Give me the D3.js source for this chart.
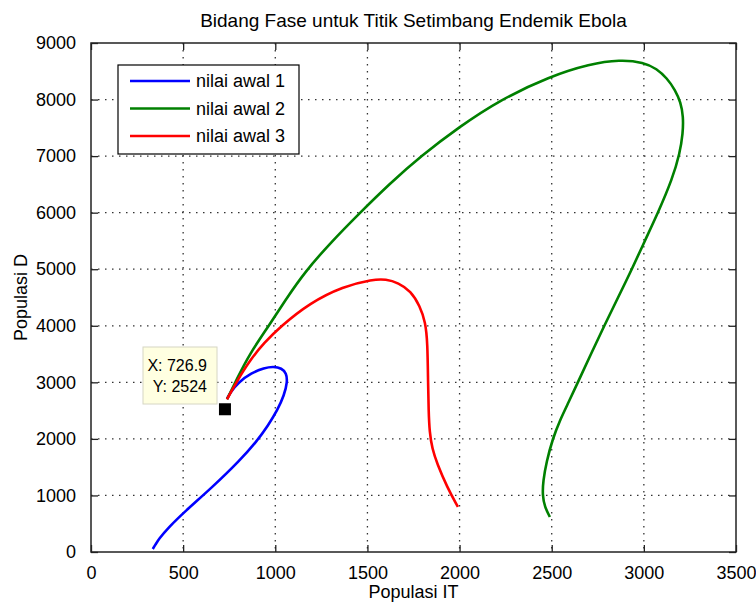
<!DOCTYPE html>
<html>
<head>
<meta charset="utf-8">
<script src="https://cdn.jsdelivr.net/npm/d3@7"></script>
<style>
  body { margin: 0; background: #fff; }
  svg text { font-family: Arial, "Liberation Sans", Helvetica, sans-serif; fill: #000; }
</style>
</head>
<body>
<svg id="canvas" width="756" height="603"></svg>
<script>
// tick values
let xTicks = [0, 500, 1000, 1500, 2000, 2500, 3000, 3500]
let yTicks = [0, 1000, 2000, 3000, 4000, 5000, 6000, 7000, 8000, 9000]

// trajectories: [IT, D]
let awal1 = [[335, 53], [350, 130], [368, 230], [420, 430], [500, 690], [660, 1150], [808, 1620],
  [900, 1960], [960, 2230], [1012, 2510], [1048, 2770], [1066, 3010], [1060, 3160], [1035, 3250],
  [990, 3280], [940, 3255], [870, 3165], [800, 3000], [755, 2820], [738, 2705]]

let awal2 = [[738, 2700], [790, 3050], [860, 3500], [965, 4000], [1060, 4480], [1160, 4950],
  [1300, 5470], [1460, 6000], [1620, 6510], [1790, 7000], [2000, 7520], [2217, 7990], [2490, 8410],
  [2707, 8630], [2870, 8705], [3000, 8660], [3070, 8545], [3125, 8380], [3170, 8170], [3200, 7950],
  [3214, 7700], [3212, 7400], [3195, 7050], [3155, 6600], [3077, 6000], [3005, 5500], [2935, 5000],
  [2860, 4500], [2785, 4000], [2713, 3500], [2642, 3000], [2592, 2650], [2545, 2334], [2505, 2000],
  [2472, 1600], [2453, 1250], [2450, 1000], [2462, 800], [2490, 619]]

let awal3 = [[738, 2700], [790, 3010], [863, 3395], [940, 3700], [1026, 3980], [1188, 4405],
  [1367, 4695], [1530, 4822], [1600, 4825], [1668, 4760], [1735, 4615], [1785, 4350], [1815, 4060],
  [1826, 3700], [1829, 3000], [1832, 2500], [1837, 2120], [1852, 1820], [1877, 1573], [1932, 1149],
  [1991, 796]]

let seriesNames = ['nilai awal 1', 'nilai awal 2', 'nilai awal 3']
let seriesColors = ['#0000ff', '#008000', '#ff0000']
let seriesData = [awal1, awal2, awal3]

let tipPoint = [726.9, 2524]

let svg = d3.select('#canvas')
let plotLeft = 91, plotRight = 736, plotTop = 43, plotBottom = 552

let xScale = d3.scaleLinear().domain([0, 3500]).range([plotLeft, plotRight])
let yScale = d3.scaleLinear().domain([0, 9000]).range([plotBottom, plotTop])

// grid
svg.append('g')
   .selectAll('line')
   .data(xTicks.slice(1, -1))
   .enter()
   .append('line')
   .attr('x1', d => xScale(d)).attr('x2', d => xScale(d))
   .attr('y1', plotTop).attr('y2', plotBottom)
   .attr('stroke', '#333').attr('stroke-width', 1.3)
   .attr('stroke-dasharray', '1.5,5.5')

svg.append('g')
   .selectAll('line')
   .data(yTicks.slice(1, -1))
   .enter()
   .append('line')
   .attr('y1', d => yScale(d)).attr('y2', d => yScale(d))
   .attr('x1', plotLeft).attr('x2', plotRight)
   .attr('stroke', '#333').attr('stroke-width', 1.3)
   .attr('stroke-dasharray', '1.5,5.5')

// axes with inward ticks on all sides
let styleAxis = (g) => {
    g.select('.domain').remove()
    g.selectAll('.tick line').attr('stroke', '#222').attr('stroke-width', 1.3)
    g.selectAll('.tick text').style('font-size', '18px')
}

svg.append('g')
   .attr('transform', `translate(0,${plotBottom})`)
   .call(d3.axisBottom(xScale).tickValues(xTicks).tickSizeInner(-7).tickPadding(14).tickFormat(d3.format('d')))
   .call(styleAxis)

svg.append('g')
   .attr('transform', `translate(0,${plotTop})`)
   .call(d3.axisTop(xScale).tickValues(xTicks).tickSizeInner(-7).tickFormat(''))
   .call(styleAxis)

svg.append('g')
   .attr('transform', `translate(${plotLeft},0)`)
   .call(d3.axisLeft(yScale).tickValues(yTicks).tickSizeInner(-7).tickPadding(15).tickFormat(d3.format('d')))
   .call(styleAxis)

svg.append('g')
   .attr('transform', `translate(${plotRight},0)`)
   .call(d3.axisRight(yScale).tickValues(yTicks).tickSizeInner(-7).tickFormat(''))
   .call(styleAxis)

svg.append('rect')
   .attr('x', plotLeft).attr('y', plotTop)
   .attr('width', plotRight - plotLeft).attr('height', plotBottom - plotTop)
   .attr('fill', 'none').attr('stroke', '#222').attr('stroke-width', 1.5)

// curves
let line = d3.line()
    .x(d => xScale(d[0]))
    .y(d => yScale(d[1]))
    .curve(d3.curveBasis)

svg.append('g')
   .selectAll('path')
   .data(seriesData)
   .enter()
   .append('path')
   .attr('d', line)
   .attr('fill', 'none')
   .attr('stroke', (d, i) => seriesColors[i])
   .attr('stroke-width', 2.6)
   .attr('stroke-linejoin', 'round')

// data tip
let tipBox = svg.append('g')
tipBox.append('rect')
      .attr('x', 143).attr('y', 347).attr('width', 74).attr('height', 57)
      .attr('fill', '#ffffe1').attr('stroke', '#d6d6c4').attr('stroke-width', 1)
tipBox.append('text')
      .attr('x', 207).attr('y', 371).attr('text-anchor', 'end')
      .style('font-size', '16px')
      .text('X: ' + tipPoint[0])
tipBox.append('text')
      .attr('x', 207).attr('y', 392).attr('text-anchor', 'end')
      .style('font-size', '16px')
      .text('Y: ' + tipPoint[1])

svg.append('rect')
   .attr('x', xScale(tipPoint[0]) - 6)
   .attr('y', yScale(tipPoint[1]) - 6)
   .attr('width', 12).attr('height', 12)
   .attr('fill', '#000')

// legend
let legend = svg.append('g')
legend.append('rect')
      .attr('x', 118).attr('y', 65).attr('width', 181).attr('height', 89)
      .attr('fill', '#fff').attr('stroke', '#000').attr('stroke-width', 1.2)

seriesNames.forEach((name, i) => {
    let yy = 81 + i * 27.5
    legend.append('line')
          .attr('x1', 130).attr('x2', 190)
          .attr('y1', yy).attr('y2', yy)
          .attr('stroke', seriesColors[i]).attr('stroke-width', 2.6)
    legend.append('text')
          .attr('x', 196).attr('y', yy + 6)
          .style('font-size', '18px')
          .text(name)
})

// labels
svg.append('text')
   .attr('x', (plotLeft + plotRight) / 2).attr('y', 27)
   .attr('text-anchor', 'middle')
   .style('font-size', '19px')
   .text('Bidang Fase untuk Titik Setimbang Endemik Ebola')

svg.append('text')
   .attr('x', (plotLeft + plotRight) / 2).attr('y', 598)
   .attr('text-anchor', 'middle')
   .style('font-size', '18px')
   .text('Populasi IT')

svg.append('text')
   .attr('transform', `translate(27,${(plotTop + plotBottom) / 2}) rotate(-90)`)
   .attr('text-anchor', 'middle')
   .style('font-size', '18px')
   .text('Populasi D')
</script>
</body>
</html>
